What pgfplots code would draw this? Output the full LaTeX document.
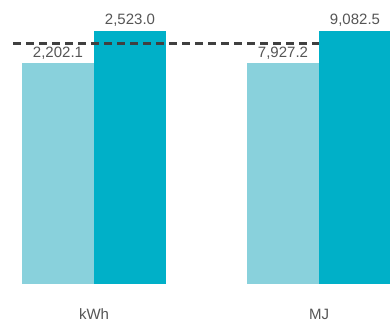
\documentclass[border=0pt]{standalone}
\usepackage{pgfplots}
\pgfplotsset{compat=1.18}
\usepackage{fontspec}
\setmainfont{Liberation Sans}
\definecolor{lightb}{HTML}{89D1DC}
\definecolor{darkb}{HTML}{00B0C8}
\definecolor{txt}{HTML}{555555}
\definecolor{dashc}{HTML}{404040}
\pgfplotsset{
  base/.style={at={(0pt,39pt)}, anchor=south west, scale only axis,
    width=390pt, height=284pt, xmin=0, xmax=390, ymin=0,
    clip=false, hide y axis, axis x line*=bottom, x axis line style={draw=none},
    major tick length=0pt,
    xticklabel style={font=\fontsize{15}{15}\selectfont, text=txt, anchor=base, inner sep=0pt, yshift=-36pt}},
  barplot/.style={ybar, bar width=72pt, bar shift=0pt, draw=none, fill=#1,
    nodes near coords={\pgfmathprintnumber[assume math mode=true,fixed,fixed zerofill,precision=1,1000 sep={,}]{\pgfplotspointmeta}},
    every node near coord/.append style={font=\fontsize{15}{15}\selectfont, text=txt, anchor=base, inner sep=0pt, yshift=6pt}}
}
\begin{document}
\begin{tikzpicture}
\begin{axis}[base, ymax=2832.1, xtick={94}, xticklabels={kWh}]
\addplot[barplot=lightb] coordinates {(58,2202.1)};
\addplot[barplot=darkb] coordinates {(130,2523.0)};
\addplot[dashc, line width=2.8pt, dash pattern=on 8pt off 5pt, sharp plot, mark=none] coordinates {(13,2398) (390,2398)};
\end{axis}
\begin{axis}[base, ymax=10195.4, xtick={319}, xticklabels={MJ}]
\addplot[barplot=lightb] coordinates {(283,7927.2)};
\addplot[barplot=darkb] coordinates {(355,9082.5)};
\end{axis}
\pgfresetboundingbox
\useasboundingbox (0,0) rectangle (390pt,323pt);
\end{tikzpicture}
\end{document}
